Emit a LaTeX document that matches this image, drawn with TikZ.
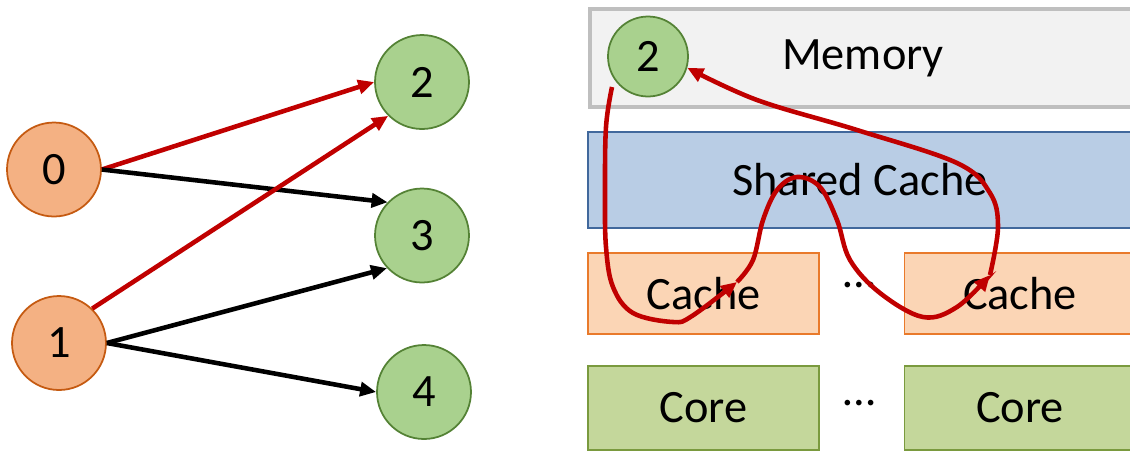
\documentclass[tikz,border=0pt]{standalone}
\usepackage{fontspec}
\setmainfont{Carlito}
\usetikzlibrary{arrows.meta}

\definecolor{srcfill}{HTML}{F4B183}
\definecolor{srcline}{HTML}{C55A11}
\definecolor{dstfill}{HTML}{A9D18E}
\definecolor{dstline}{HTML}{548235}
\definecolor{pathred}{HTML}{C00000}
\definecolor{memfill}{HTML}{F2F2F2}
\definecolor{memline}{HTML}{BFBFBF}
\definecolor{sharedfill}{HTML}{B9CDE5}
\definecolor{sharedline}{HTML}{41689C}
\definecolor{cachefill}{HTML}{FBD5B5}
\definecolor{cacheline}{HTML}{E97A2B}
\definecolor{corefill}{HTML}{C4D79B}
\definecolor{coreline}{HTML}{7A9A3E}

\tikzset{
  bigfont/.style={font=\fontsize{26.4}{30}\selectfont},
  srcnode/.style={circle, draw=srcline, fill=srcfill, line width=1pt, minimum size=1.88cm, inner sep=0pt, bigfont},
  dstnode/.style={circle, draw=dstline, fill=dstfill, line width=1pt, minimum size=1.88cm, inner sep=0pt, bigfont},
  edge/.style={line width=2.6pt, -{Triangle[length=0.32cm, width=0.28cm]}},
  hwbox/.style={rectangle, inner sep=0pt, line width=1.1pt, bigfont},
  dotsnode/.style={anchor=base, inner sep=0pt, bigfont},
}

\begin{document}
\begin{tikzpicture}[x=0.02cm, y=-0.02cm]
  \useasboundingbox (0,0) rectangle (1130,451);
  \clip (0,0) rectangle (1130,451);
  % Graph
  \foreach \n/\x/\y in {0/54/169.5, 1/59/343} {
    \node[srcnode] (n\n) at (\x,\y) {\n};
  }
  \foreach \n/\x/\y in {2/422/82, 3/422/235.5, 4/424/392} {
    \node[dstnode] (n\n) at (\x,\y) {\n};
  }
  \draw[edge, pathred] (n0.east) -- (n2.west);
  \draw[edge] (n0.east) -- (n3.136);
  \draw[edge, pathred] (n1.46) -- (n2.225);
  \draw[edge] (n1.east) -- (n3.223);
  \draw[edge] (n1.east) -- (n4.west);
  % Hierarchy
  \node[hwbox, draw=memline, fill=memfill, line width=2.3pt, minimum width=10.92cm, minimum height=1.96cm] (mem) at (863,58) {Memory};
  \node[hwbox, draw=sharedline, fill=sharedfill, minimum width=10.88cm, minimum height=1.92cm] (shared) at (860,180) {Shared Cache};
  \foreach \i/\x in {a/703.5, b/1020} {
    \node[hwbox, draw=cacheline, fill=cachefill, minimum width=4.62cm, minimum height=1.62cm] (cache\i) at (\x,293.5) {Cache};
    \node[hwbox, draw=coreline, fill=corefill, minimum width=4.62cm, minimum height=1.68cm] (core\i) at (\x,408) {Core};
  }
  \node[dotsnode] (dotsa) at (860,287) {…};
  \node[dotsnode] (dotsb) at (860,405) {…};
  \node[dstnode, minimum size=1.6cm] (m2) at (648,56.5) {2};
  % Path of the line
  \coordinate (memstart) at (612,87);
  \coordinate (tipa) at (737,282);
  \coordinate (tipb) at (990,275);
  \draw[edge, pathred] plot[smooth, tension=0.6] coordinates {(memstart) (606,127) (605,193) (606,247) (613,287) (633,313) (673,322) (692,316) (tipa)};
  \draw[edge, pathred] plot[smooth, tension=0.6] coordinates {(tipa) (753,260) (763,220) (777,190) (797,177) (820,187) (837,220) (850,260) (880,293) (923,317) (957,307) (tipb)};
  \draw[edge, pathred] plot[smooth, tension=0.6] coordinates {(tipb) (998,227) (990,193) (957,163) (857,130) (757,100) (m2.-16)};
\end{tikzpicture}
\end{document}
